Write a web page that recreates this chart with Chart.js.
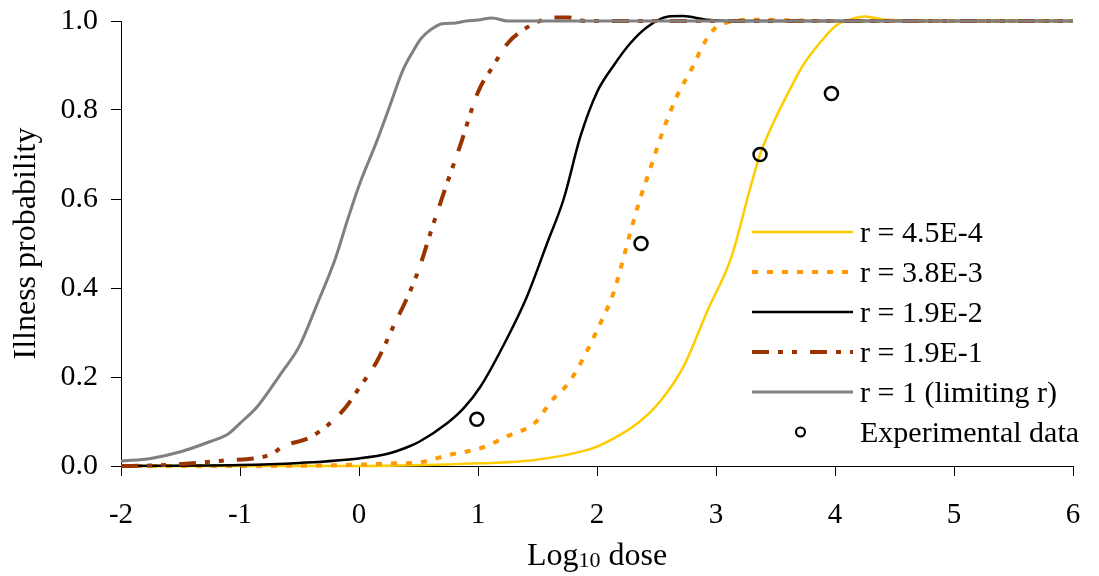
<!DOCTYPE html>
<html>
<head>
<meta charset="utf-8">
<script src="https://cdn.jsdelivr.net/npm/chart.js@4.4.1/dist/chart.umd.min.js"></script>
<style>
    html, body { margin: 0; padding: 0; background: #ffffff; }
    #wrap { width: 1099px; height: 576px; }
</style>
</head>
<body>
<div id="wrap"><canvas id="chart1" width="1099" height="576"></canvas></div>
<script>
/*Data*/
var seriesLabels = ['r = 4.5E-4', 'r = 3.8E-3', 'r = 1.9E-2', 'r = 1.9E-1', 'r = 1 (limiting r)', 'Experimental data'];

var doseR45e4 = [-2, 0, 0.34, 1.02, 1.46, 1.89, 2.03, 2.36, 2.53, 2.73, 2.93, 3.13, 3.29, 3.37, 3.48, 3.59, 3.73, 3.87, 4.01, 4.15, 4.25, 4.43, 5, 6];
var probR45e4 = [0, 0, 0.001, 0.006, 0.013, 0.034, 0.047, 0.10, 0.145, 0.225, 0.35, 0.47, 0.627, 0.70, 0.77, 0.83, 0.90, 0.95, 0.99, 1.005, 1.01, 1.003, 1.0, 1.0];

var doseR38e3 = [-2, -1, 0, 0.3, 0.5, 0.76, 1.02, 1.24, 1.49, 1.61, 1.77, 1.9, 2.0, 2.14, 2.21, 2.27, 2.35, 2.45, 2.55, 2.67, 2.8, 2.9, 3.0, 3.1, 3.26, 4, 5, 6];
var probR38e3 = [0, 0, 0.003, 0.006, 0.008, 0.025, 0.04, 0.066, 0.10, 0.144, 0.19, 0.25, 0.305, 0.39, 0.455, 0.515, 0.59, 0.67, 0.75, 0.83, 0.895, 0.95, 0.986, 0.997, 1.003, 1.0, 1.0, 1.0];

var doseR19e2 = [-2, -1, -0.5, 0, 0.25, 0.43, 0.51, 0.74, 0.88, 1.02, 1.25, 1.41, 1.58, 1.72, 1.86, 2.0, 2.14, 2.28, 2.42, 2.6, 2.72, 2.92, 3.2, 4, 5, 6];
var probR19e2 = [0, 0.002, 0.007, 0.017, 0.028, 0.045, 0.055, 0.096, 0.13, 0.178, 0.29, 0.38, 0.5, 0.6, 0.74, 0.84, 0.9, 0.95, 0.986, 1.01, 1.011, 1.003, 1.0, 1.0, 1.0, 1.0];

var doseR19e1 = [-2, -1.75, -1.4, -1.15, -0.75, -0.63, -0.4, -0.13, 0, 0.15, 0.3, 0.4, 0.5, 0.62, 0.72, 0.85, 1.0, 1.13, 1.25, 1.38, 1.52, 1.63, 1.76, 1.9, 2.5, 3, 4, 5, 6];
var probR19e1 = [0, 0.001, 0.006, 0.012, 0.025, 0.045, 0.066, 0.126, 0.175, 0.235, 0.32, 0.375, 0.44, 0.54, 0.62, 0.72, 0.84, 0.9, 0.95, 0.98, 1.0, 1.008, 1.008, 1.0, 1.0, 1.0, 1.0, 1.0, 1.0];

var doseR1 = [-2, -1.75, -1.5, -1.25, -1.1, -1.0, -0.85, -0.65, -0.5, -0.35, -0.2, -0.1, 0, 0.15, 0.26, 0.37, 0.45, 0.52, 0.6, 0.7, 0.8, 0.9, 1.0, 1.12, 1.25, 1.5, 2, 3, 4, 5, 6];
var probR1 = [0.011, 0.017, 0.032, 0.055, 0.072, 0.096, 0.135, 0.21, 0.27, 0.365, 0.465, 0.55, 0.63, 0.73, 0.81, 0.89, 0.93, 0.96, 0.98, 0.994, 0.995, 1.0, 1.002, 1.007, 1.0, 1.0, 1.0, 1.0, 1.0, 1.0, 1.0];

var doseExp = [0.99, 2.37, 3.37, 3.97];
var probExp = [0.105, 0.50, 0.70, 0.837];

/*Axis settings*/
var xMin = -2, xMax = 6, xStep = 1;
var yMin = 0, yMax = 1, yStep = 0.2;

var fontFamily = '"Liberation Serif", "Times New Roman", serif';

/*Utils*/
function toPoints(xs, ys) {
    var container = [];
    xs.forEach(function(value, i) {
        container.push({x: value, y: ys[i]});
    });
    return container;
}

function lineSet(label, xs, ys, color, width, dash, order) {
    return {
        label: label,
        data: toPoints(xs, ys),
        borderColor: color,
        backgroundColor: color,
        borderWidth: width,
        borderDash: dash,
        pointRadius: 0,
        pointHoverRadius: 0,
        cubicInterpolationMode: 'monotone',
        fill: false,
        clip: false,
        order: order
    };
}

/*Legend drawn at the right side of the plot*/
var sideLegend = {
    id: 'sideLegend',
    afterDraw: function(chart) {
        var ctx = chart.ctx;
        var area = chart.chartArea;
        var lineLeft = area.right - 321;
        var lineRight = area.right - 220;
        var textX = area.right - 213;
        var firstRow = area.top + 211;
        var rowGap = 40;

        ctx.save();
        ctx.font = '30px ' + fontFamily;
        ctx.fillStyle = '#000000';
        ctx.textAlign = 'left';
        ctx.textBaseline = 'alphabetic';

        chart.data.datasets.forEach(function(ds, i) {
            var y = firstRow + i * rowGap;
            if (ds.showLine === false) {
                ctx.beginPath();
                ctx.setLineDash([]);
                ctx.lineWidth = 2.2;
                ctx.strokeStyle = ds.borderColor;
                ctx.arc((lineLeft + lineRight) / 2 - 2, y, 4.5, 0, Math.PI * 2);
                ctx.stroke();
            } else {
                ctx.beginPath();
                ctx.setLineDash(ds.borderDash || []);
                ctx.lineWidth = ds.borderWidth;
                ctx.strokeStyle = ds.borderColor;
                ctx.moveTo(lineLeft, y);
                ctx.lineTo(lineRight, y);
                ctx.stroke();
            }
            ctx.setLineDash([]);
            ctx.fillText(ds.label, textX, y + 10);
        });
        ctx.restore();
    }
};

/*Axis titles (x title has a subscript)*/
var axisTitles = {
    id: 'axisTitles',
    afterDraw: function(chart) {
        var ctx = chart.ctx;
        var area = chart.chartArea;
        var big = '32px ' + fontFamily;
        var small = '22px ' + fontFamily;

        ctx.save();
        ctx.fillStyle = '#000000';
        ctx.textBaseline = 'alphabetic';
        ctx.textAlign = 'left';

        /*x title*/
        ctx.font = big;
        var w1 = ctx.measureText('Log').width;
        var w3 = ctx.measureText(' dose').width;
        ctx.font = small;
        var w2 = ctx.measureText('10').width;
        var startX = (area.left + area.right) / 2 - (w1 + w2 + w3) / 2;
        var baseY = area.bottom + 99;
        ctx.font = big;
        ctx.fillText('Log', startX, baseY);
        ctx.font = small;
        ctx.fillText('10', startX + w1, baseY + 2);
        ctx.font = big;
        ctx.fillText(' dose', startX + w1 + w2, baseY);

        /*y title*/
        ctx.translate(area.left - 86, (area.top + area.bottom) / 2);
        ctx.rotate(-Math.PI / 2);
        ctx.textAlign = 'center';
        ctx.font = big;
        ctx.fillText('Illness probability', 0, 0);
        ctx.restore();
    }
};

var datasets = [
    lineSet(seriesLabels[0], doseR45e4, probR45e4, '#FFCC00', 2.5, [], 5),
    lineSet(seriesLabels[1], doseR38e3, probR38e3, '#FF9900', 4, [6, 9], 4),
    lineSet(seriesLabels[2], doseR19e2, probR19e2, '#000000', 2.5, [], 3),
    lineSet(seriesLabels[3], doseR19e1, probR19e1, '#993300', 4, [17, 9, 5, 9, 5, 13], 2),
    lineSet(seriesLabels[4], doseR1, probR1, '#808080', 3, [], 1),
    {
        label: seriesLabels[5],
        data: toPoints(doseExp, probExp),
        showLine: false,
        borderColor: '#000000',
        backgroundColor: 'rgba(0,0,0,0)',
        borderWidth: 2.5,
        pointRadius: 6.5,
        pointHoverRadius: 6.5,
        pointStyle: 'circle',
        clip: false,
        order: 0
    }
];

var chart = new Chart(document.getElementById('chart1').getContext('2d'), {
    type: 'line',
    data: { datasets: datasets },
    options: {
        responsive: false,
        animation: false,
        devicePixelRatio: 1,
        layout: { padding: { top: 21, right: 26, left: 0, bottom: 0 } },
        plugins: {
            legend: { display: false },
            tooltip: { enabled: false }
        },
        scales: {
            x: {
                type: 'linear',
                min: xMin,
                max: xMax,
                afterFit: function(scale) {
                    scale.height = 110;
                    scale.paddingLeft = 0;
                    scale.paddingRight = 0;
                },
                grid: {
                    drawOnChartArea: false,
                    drawTicks: true,
                    tickLength: 10,
                    color: '#000000',
                    lineWidth: 1
                },
                border: { display: true, color: '#000000', width: 1 },
                ticks: {
                    stepSize: xStep,
                    padding: 22,
                    color: '#000000',
                    font: { family: fontFamily, size: 29 },
                    maxRotation: 0
                }
            },
            y: {
                type: 'linear',
                min: yMin,
                max: yMax,
                afterFit: function(scale) {
                    scale.width = 121;
                    scale.paddingTop = 0;
                    scale.paddingBottom = 0;
                },
                grid: {
                    drawOnChartArea: false,
                    drawTicks: true,
                    tickLength: 10,
                    color: '#000000',
                    lineWidth: 1
                },
                border: { display: true, color: '#000000', width: 1 },
                ticks: {
                    stepSize: yStep,
                    padding: 13,
                    color: '#000000',
                    font: { family: fontFamily, size: 30 },
                    callback: function(value) { return value.toFixed(1); }
                }
            }
        }
    },
    plugins: [sideLegend, axisTitles]
});
</script>
</body>
</html>
